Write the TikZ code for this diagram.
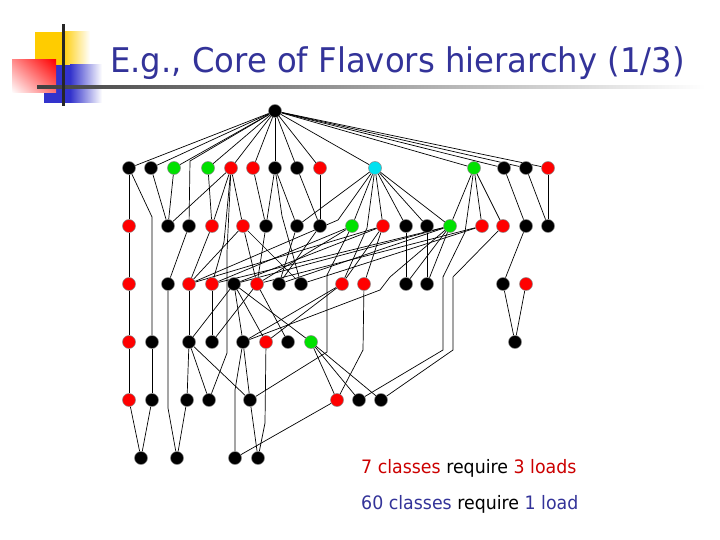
\documentclass[tikz,border=0pt]{standalone}
\usepackage{fontspec}
\setmainfont{DejaVu Sans}
\usetikzlibrary{shadings}
\pgfdeclarelayer{bg}
\pgfsetlayers{bg,main}
\definecolor{ttl}{RGB}{51,51,153}
\definecolor{dred}{RGB}{204,0,0}
\definecolor{nred}{RGB}{255,0,0}
\definecolor{ngreen}{RGB}{0,225,0}
\definecolor{ncyan}{RGB}{0,225,240}
\definecolor{dyel}{RGB}{255,204,0}
\definecolor{dblu}{RGB}{51,51,204}
\tikzset{
  dot/.style={circle, minimum size=13pt, inner sep=0pt, draw=black!45, line width=0.5pt},
  K/.style={dot, fill=black},
  Rd/.style={dot, fill=nred},
  G/.style={dot, fill=ngreen},
  C/.style={dot, fill=ncyan},
  edge/.style={draw=black, line width=0.7pt},
}
\begin{document}
\begin{tikzpicture}[x=1pt,y=-1pt]
\useasboundingbox (0,0) rectangle (720,540);
% decoration
\fill[dyel] (35,32) rectangle (62,66);
\shade[left color=dyel, right color=white] (62,32) rectangle (90,66);
\fill[dblu] (44,65) rectangle (70,103);
\shade[left color=dblu, right color=white] (70,65) rectangle (102,103);
\shade[upper right=nred, lower left=white, upper left=nred!45!white, lower right=nred!55!white] (12,60) rectangle (56,93);
\shade[left color=black!75, right color=white] (37,86) rectangle (705,88.5);
\fill[black!85] (62,24) rectangle (64.5,106);
% title
\node[anchor=base west, inner sep=0pt, text=ttl] (title) at (110,73)
  {\scalebox{0.95}[1]{\fontsize{34}{40}\selectfont E.g., Core of Flavors hierarchy (1/3)}};
% nodes
\node[K] (R) at (275,111) {};
% row 1
\node[K] (a1) at (129,168) {};
\node[K] (a2) at (151,168) {};
\node[G] (a3) at (174,168) {};
\node[G] (a4) at (208,168) {};
\node[Rd] (a5) at (231,168) {};
\node[Rd] (a6) at (253,168) {};
\node[K] (a7) at (275,168) {};
\node[K] (a8) at (297,168) {};
\node[Rd] (a9) at (320,168) {};
\node[C] (a10) at (375,168) {};
\node[G] (a11) at (474,168) {};
\node[K] (a12) at (504,168) {};
\node[K] (a13) at (526,168) {};
\node[Rd] (a14) at (548,168) {};
% row 2
\node[Rd] (b1) at (129,226) {};
\node[K] (b2) at (168,226) {};
\node[K] (b3) at (189,226) {};
\node[Rd] (b4) at (212,226) {};
\node[Rd] (b5) at (243,226) {};
\node[K] (b6) at (266,226) {};
\node[K] (b7) at (297,226) {};
\node[K] (b8) at (320,226) {};
\node[G] (b9) at (352,226) {};
\node[Rd] (b10) at (383,226) {};
\node[K] (b11) at (406,226) {};
\node[K] (b12) at (427,226) {};
\node[G] (b13) at (450,226) {};
\node[Rd] (b14) at (482,226) {};
\node[Rd] (b15) at (503,226) {};
\node[K] (b16) at (526,226) {};
\node[K] (b17) at (548,226) {};
% row 3
\node[Rd] (c1) at (129,284) {};
\node[K] (c2) at (168,284) {};
\node[Rd] (c3) at (189,284) {};
\node[Rd] (c4) at (212,284) {};
\node[K] (c5) at (234,284) {};
\node[Rd] (c6) at (257,284) {};
\node[K] (c7) at (279,284) {};
\node[K] (c8) at (301,284) {};
\node[Rd] (c9) at (342,284) {};
\node[Rd] (c10) at (364,284) {};
\node[K] (c11) at (406,284) {};
\node[K] (c12) at (427,284) {};
\node[K] (c13) at (503,284) {};
\node[Rd] (c14) at (526,284) {};
% row 4
\node[Rd] (d1) at (129,342) {};
\node[K] (d2) at (152,342) {};
\node[K] (d3) at (189,342) {};
\node[K] (d4) at (212,342) {};
\node[K] (d5) at (243,342) {};
\node[Rd] (d6) at (266,342) {};
\node[K] (d7) at (288,342) {};
\node[G] (d8) at (311,342) {};
\node[K] (d9) at (515,342) {};
% row 5
\node[Rd] (e1) at (129,400) {};
\node[K] (e2) at (152,400) {};
\node[K] (e3) at (187,400) {};
\node[K] (e4) at (209,400) {};
\node[K] (e5) at (250,400) {};
\node[Rd] (e6) at (337,400) {};
\node[K] (e7) at (359,400) {};
\node[K] (e8) at (381,400) {};
% row 6
\node[K] (f1) at (141,458) {};
\node[K] (f2) at (177,458) {};
\node[K] (f3) at (235,458) {};
\node[K] (f4) at (258,458) {};
% edges
\begin{pgfonlayer}{bg}
\fill[white] (0,0) rectangle (720,540);
\foreach \t in {a1,a2,a3,a4,a5,a6,a7,a8,a9,a10,a11,a12,a13,a14}
  \draw[edge] (R) -- (\t);
\draw[edge] (R) -- (190,161) -- (b3);
% row 1 -> 2
\foreach \s/\t in {a1/b1,a2/b2,a3/b2,a4/b4,a5/b2,a5/b4,a5/b5,a6/b6,a7/b6,a7/b7,a8/b8,a9/b8,
  a10/b7,a10/b9,a10/b10,a10/b11,a10/b12,a10/b13,a11/b13,a11/b14,a11/b15,a12/b16,a13/b17,a14/b17}
  \draw[edge] (\s) -- (\t);
\draw[edge] (a1) -- (152,217) -- (d2);
\draw[edge] (a5) -- (224,242) -- (c4);
\draw[edge] (a5) -- (227,252) -- (227,353) -- (e4);
\draw[edge] (a7) -- (282,216) -- (c8);
\draw[edge] (a10) -- (338,220) -- (c3);
\draw[edge] (a10) -- (367,228) -- (c9);
\draw[edge] (a11) -- (465,232) -- (443,277) -- (443,350) -- (e7);
% row 2 -> 3
\foreach \s/\t in {b1/c1,b3/c2,b4/c3,b5/c3,b5/c6,b5/c8,b6/c6,b7/c7,b8/c7,b9/c4,b9/c6,
  b10/c3,b10/c5,b10/c10,b10/c9,b11/c11,b12/c12,b13/c4,b13/c5,b13/c7,b13/c11,b13/c12,
  b14/c6,b14/c8,b16/c13}
  \draw[edge] (\s) -- (\t);
\draw[edge] (b9) -- (327,275) -- (327,352) -- (e5);
\draw[edge] (b13) -- (390,277) -- (380,290) -- (d5);
\draw[edge] (b15) -- (453,277) -- (453,350) -- (e8);
% row 3 -> 4
\foreach \s/\t in {c1/d1,c3/d3,c4/d4,c5/d3,c5/d5,c5/d6,c5/d8,c6/d4,c6/d7,c9/d5,c9/d6,c13/d9,c14/d9}
  \draw[edge] (\s) -- (\t);
\draw[edge] (c2) -- (168,408) -- (f2);
\draw[edge] (c10) -- (363,350) -- (e6);
% row 4 -> 5
\foreach \s/\t in {d1/e1,d2/e2,d3/e3,d3/e4,d3/e5,d5/e5,d8/e6,d8/e7,d8/e8}
  \draw[edge] (\s) -- (\t);
\draw[edge] (d5) -- (235,390) -- (f3);
\draw[edge] (d6) -- (265,423) -- (f4);
% row 5 -> 6
\foreach \s/\t in {e1/f1,e2/f1,e3/f2,e5/f4,e6/f3}
  \draw[edge] (\s) -- (\t);
\end{pgfonlayer}
% legend
\node[anchor=base west, inner sep=0pt] (l1) at (361,473)
  {\scalebox{0.94}[1]{\fontsize{18.5}{22}\selectfont\textcolor{dred}{7 classes} require \textcolor{dred}{3 loads}}};
\node[anchor=base west, inner sep=0pt] (l2) at (361,509)
  {\scalebox{0.94}[1]{\fontsize{18.5}{22}\selectfont\textcolor{ttl}{60 classes} require \textcolor{ttl}{1 load}}};
\end{tikzpicture}
\end{document}
